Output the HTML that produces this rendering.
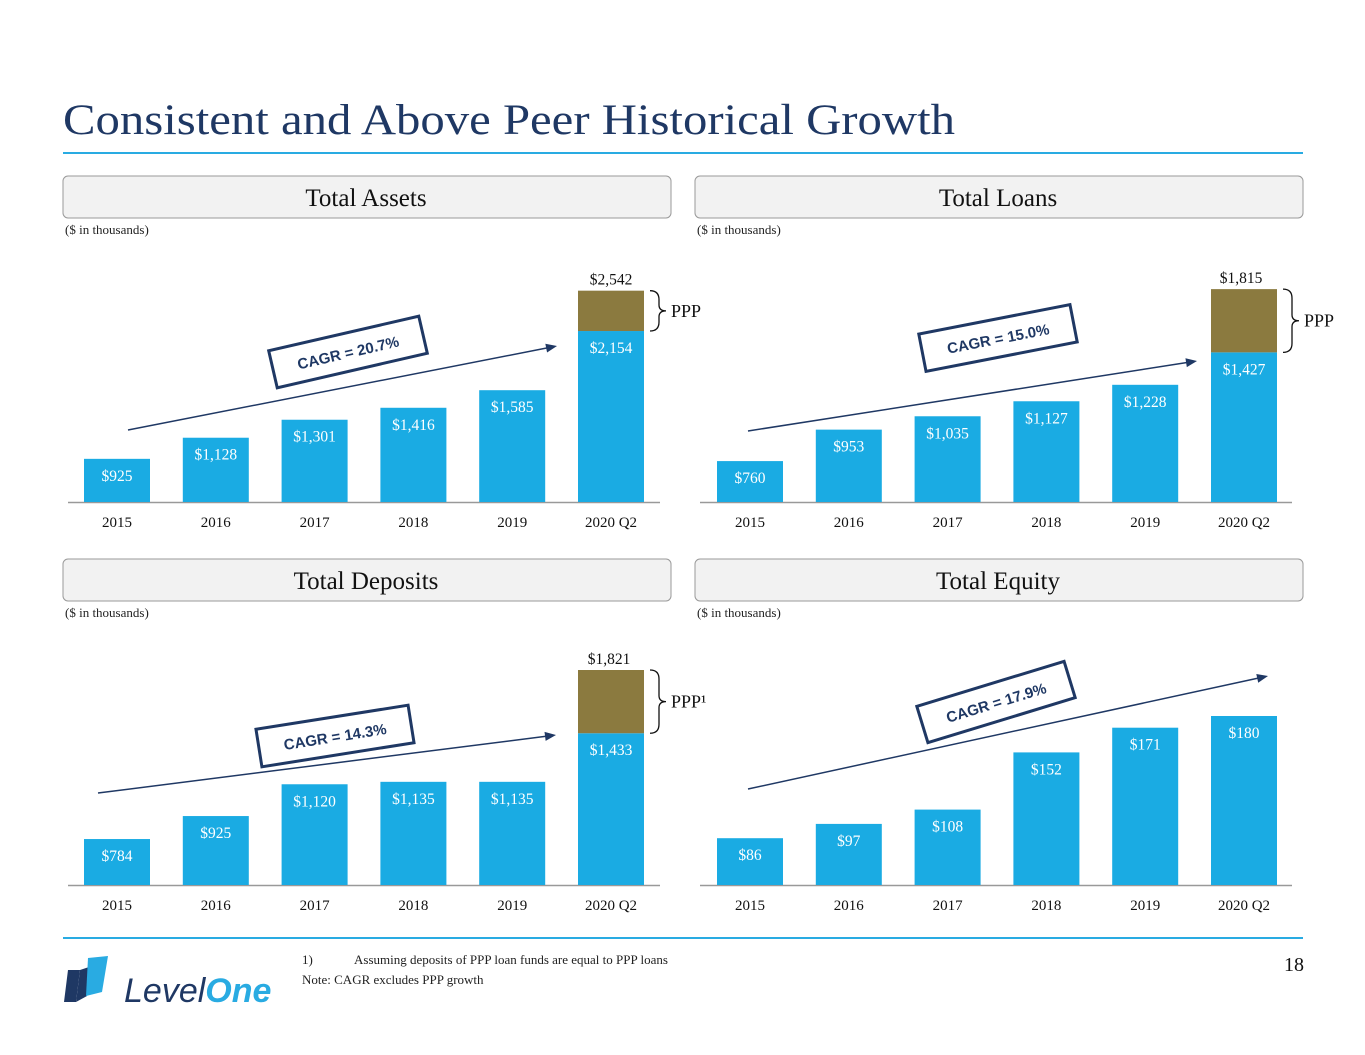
<!DOCTYPE html>
<html><head><meta charset="utf-8">
<style>
body{margin:0;background:#fff;}
#root{position:relative;width:1365px;height:1055px;overflow:hidden;font-family:"Liberation Serif",serif;}
svg{position:absolute;left:0;top:0;}
</style></head>
<body><div id="root">
<svg id="s" width="1365" height="1055" xmlns="http://www.w3.org/2000/svg">
<text x="63" y="134" font-size="43" fill="#1f3864" font-family="Liberation Serif,serif" textLength="892" lengthAdjust="spacingAndGlyphs">Consistent and Above Peer Historical Growth</text>
<line x1="63" y1="153" x2="1303" y2="153" stroke="#29abe2" stroke-width="2"/>
<line x1="63" y1="938" x2="1303" y2="938" stroke="#29abe2" stroke-width="2"/>
<text x="302" y="964" font-size="13" fill="#222">1)<tspan x="354">Assuming deposits of PPP loan funds are equal to PPP loans</tspan></text>
<text x="302" y="984" font-size="13" fill="#222">Note: CAGR excludes PPP growth</text>
<text x="1304" y="971" font-size="20" fill="#111" text-anchor="end">18</text>
<g>
<polygon points="68,970 80,970 76,1002 64,1002" fill="#1f3864"/>
<polygon points="80,970 92,966 87,996 76,1002" fill="#1f3864"/>
<polygon points="88,958 108,956 102,992 86,996" fill="#29abe2"/>
<text x="124" y="1002" font-size="34" font-style="italic" fill="#1f3864" font-family="Liberation Sans,sans-serif">Level<tspan fill="#29abe2" font-weight="bold">One</tspan></text>
</g>
</svg>
<script>
const categories=["2015","2016","2017","2018","2019","2020 Q2"];
const assetsBase=[925,1128,1301,1416,1585,2154];
const assetsTotal=2542;
const loansBase=[760,953,1035,1127,1228,1427];
const loansTotal=1815;
const depositsBase=[784,925,1120,1135,1135,1433];
const depositsTotal=1821;
const equityBase=[86,97,108,152,171,180];
const assetsCagr="CAGR = 20.7%";
const loansCagr="CAGR = 15.0%";
const depositsCagr="CAGR = 14.3%";
const equityCagr="CAGR = 17.9%";

const NS="http://www.w3.org/2000/svg";
const svg=document.getElementById('s');
function mk(tag,attrs,parent,text){const e=document.createElementNS(NS,tag);for(const k in attrs)e.setAttribute(k,attrs[k]);if(text!==undefined)e.textContent=text;(parent||svg).appendChild(e);return e;}
function fmt(v){return "$"+v.toLocaleString("en-US");}

function chart(cfg){
  const g=mk('g',{});
  
  
  const hb=mk('rect',{x:cfg.bx,y:cfg.top,width:608,height:42,rx:5,fill:'#f2f2f2',stroke:'#999','stroke-width':1},g);
  
  
  const ht=mk('text',{x:cfg.bx+303,y:cfg.top+30,'font-size':25,'text-anchor':'middle',fill:'#111'},g,cfg.title);
  
  
  const un=mk('text',{x:cfg.bx+2,y:cfg.top+58,'font-size':13,fill:'#222'},g,'($ in thousands)');
  
  
  const base=cfg.baseline;
  const h=v=>cfg.slope*(v-cfg.v0);
  const xb=i=>cfg.x0+i*98.8;
  const ax=mk('line',{x1:cfg.bx+5,y1:base+0.5,x2:cfg.bx+597,y2:base+0.5,stroke:'#999','stroke-width':1.5},g);
  
  
  cfg.data.forEach((v,i)=>{
    const top=base-h(v);
    const r=mk('rect',{x:xb(i),y:top,width:66,height:h(v),fill:'#1aabe3'},g);
    
    
    const t=mk('text',{x:xb(i)+33,y:top+22,'font-size':15.5,'text-anchor':'middle',fill:'#fff'},g,fmt(v));
    
    
    const c=mk('text',{x:xb(i)+33,y:base+25,'font-size':15,'text-anchor':'middle',fill:'#111'},g,categories[i]);
    
    
  });
  if(cfg.total){
    const i=5,v=cfg.data[5];
    const t1=base-h(cfg.total),t0=base-h(v);
    const p=mk('rect',{x:xb(i),y:t1,width:66,height:t0-t1,fill:'#8b7a3f'},g);
    
    
    const tl=mk('text',{x:xb(i)+cfg.totalDx,y:t1-6,'font-size':15.5,'text-anchor':'middle',fill:'#111'},g,fmt(cfg.total));
    
    
    const bx=xb(i)+72,m=(t1+t0)/2;
    const br=mk('path',{d:`M${bx},${t1} q9,0 9,9 v${m-t1-15} q0,6 7,6 q-7,0 -7,6 v${t0-m-15} q0,9 -9,9`,fill:'none',stroke:'#111','stroke-width':1.3},g);
    
    
    const pl=mk('text',{x:bx+21,y:m+6,'font-size':18,fill:'#111'},g,cfg.pppLabel);
    
    
  }
  const a=cfg.arrow;
  const ang=Math.atan2(a[3]-a[1],a[2]-a[0]);
  const ar=mk('line',{x1:a[0],y1:a[1],x2:a[2]-6*Math.cos(ang),y2:a[3]-6*Math.sin(ang),stroke:'#1f3864','stroke-width':1.5},g);
  
  
  const hx=a[2],hy=a[3],L=11,W=4.5;
  const pts=[[hx,hy],[hx-L*Math.cos(ang)+W*Math.sin(ang),hy-L*Math.sin(ang)-W*Math.cos(ang)],[hx-L*Math.cos(ang)-W*Math.sin(ang),hy-L*Math.sin(ang)+W*Math.cos(ang)]];
  const ah=mk('polygon',{points:pts.map(p=>p.join(',')).join(' '),fill:'#1f3864'},g);
  
  
  const c=cfg.cagrBox;
  const cg=mk('g',{transform:`translate(${c[0]},${c[1]}) rotate(${c[2]})`},g);
  
  
  mk('rect',{x:-77,y:-19,width:154,height:38,fill:'#fff',stroke:'#1f3864','stroke-width':3},cg);
  const ct=mk('text',{x:0,y:6,'font-size':15,'font-weight':'bold','text-anchor':'middle',fill:'#1f3864','font-family':'Liberation Sans,sans-serif'},cg,cfg.cagr);
  
  
}

chart({name:'total-assets-chart',title:'Total Assets',bx:63,top:176,baseline:502,x0:84,slope:0.104,v0:510,data:assetsBase,total:assetsTotal,totalDx:33,pppLabel:'PPP',arrow:[128,430,557,346],cagrBox:[348,352,-13],cagr:assetsCagr});
chart({name:'total-loans-chart',title:'Total Loans',bx:695,top:176,baseline:502,x0:717,slope:0.163,v0:509,data:loansBase,total:loansTotal,totalDx:30,pppLabel:'PPP',arrow:[748,431,1197,361],cagrBox:[998,338,-11],cagr:loansCagr});
chart({name:'total-deposits-chart',title:'Total Deposits',bx:63,top:559,baseline:885,x0:84,slope:0.163,v0:502,data:depositsBase,total:depositsTotal,totalDx:31,pppLabel:'PPP¹',arrow:[98,793,556,735],cagrBox:[335,736,-9],cagr:depositsCagr});
chart({name:'total-equity-chart',title:'Total Equity',bx:695,top:559,baseline:885,x0:717,slope:1.30,v0:50,data:equityBase,total:null,arrow:[748,789,1268,676],cagrBox:[996,702,-17],cagr:equityCagr});
</script>
</div></body></html>
